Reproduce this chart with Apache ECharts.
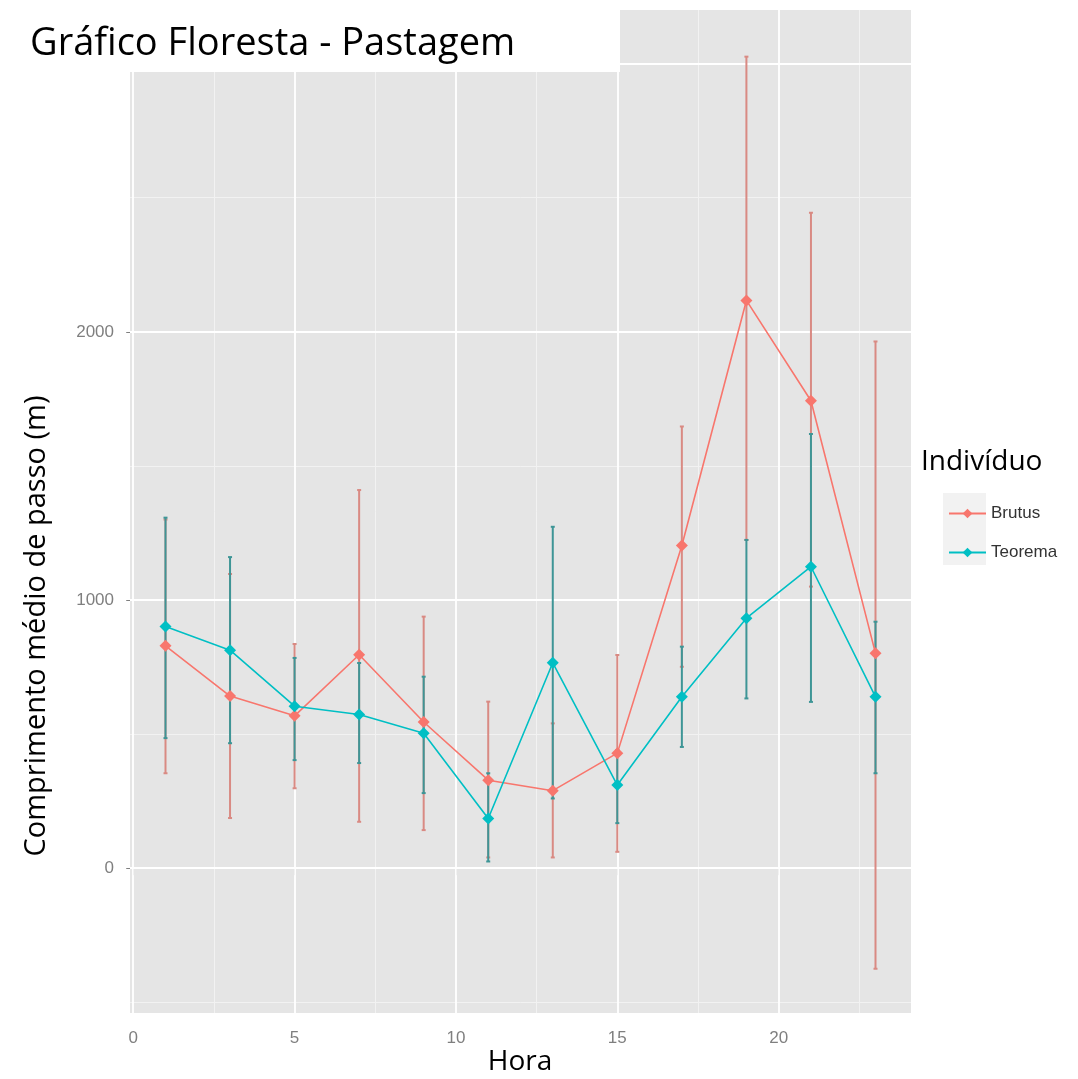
<!DOCTYPE html>
<html>
<head>
<meta charset="utf-8">
<script src="https://cdn.jsdelivr.net/npm/echarts@6/dist/echarts.min.js"></script>
<style>html,body{margin:0;padding:0;background:#fff}#c{width:1078px;height:1079px}</style>
</head>
<body>
<div id="c"></div>
<script>
const hours = [1, 3, 5, 7, 9, 11, 13, 15, 17, 19, 21, 23];
const brutusMean = [829, 642, 568, 796, 545, 328, 289, 429, 1203, 2117, 1743, 801];
const brutusLow = [354, 187, 298, 173, 142, 40, 40, 61, 751, 1224, 1050, -375];
const brutusHigh = [1300, 1097, 836, 1410, 938, 621, 540, 795, 1647, 3026, 2444, 1964];
const teoremaMean = [901, 813, 604, 573, 503, 185, 766, 310, 639, 932, 1124, 639];
const teoremaLow = [485, 466, 403, 392, 280, 25, 260, 168, 452, 633, 620, 354];
const teoremaHigh = [1307, 1160, 784, 765, 714, 354, 1273, 440, 826, 1224, 1619, 919];
const xTicks = [0, 5, 10, 15, 20];
const xMinor = [2.5, 7.5, 12.5, 17.5, 22.5];
const yTicks = [0, 1000, 2000, 3000];
const yMinor = [-500, 500, 1500, 2500];

const RED = '#F8766D', TEAL = '#00BFC4';
const chart = echarts.init(document.getElementById('c'));

function errSeries(name, low, high, color) {
  return {
    type: 'custom', name: name + '_err', silent: true, z: 3,
    data: hours.map((h, i) => [h, low[i], high[i]]),
    renderItem: (params, api) => {
      const x = api.value(0);
      const p1 = api.coord([x, api.value(1)]);
      const p2 = api.coord([x, api.value(2)]);
      const st = { stroke: color, lineWidth: 2 };
      return { type: 'group', children: [
        { type: 'line', shape: { x1: p1[0], y1: p1[1], x2: p2[0], y2: p2[1] }, style: st },
        { type: 'line', shape: { x1: p1[0] - 2, y1: p1[1], x2: p1[0] + 2, y2: p1[1] }, style: st },
        { type: 'line', shape: { x1: p2[0] - 2, y1: p2[1], x2: p2[0] + 2, y2: p2[1] }, style: st }
      ]};
    }
  };
}

const gridLines = [];
xMinor.forEach(v => gridLines.push({ xAxis: v, lineStyle: { color: '#F2F2F2', width: 1, type: 'solid' } }));
yMinor.forEach(v => gridLines.push({ yAxis: v, lineStyle: { color: '#F2F2F2', width: 1, type: 'solid' } }));
xTicks.forEach(v => gridLines.push({ xAxis: v, lineStyle: { color: '#FFFFFF', width: 1.8, type: 'solid' } }));
yTicks.forEach(v => gridLines.push({ yAxis: v, lineStyle: { color: '#FFFFFF', width: 1.8, type: 'solid' } }));

const axisTxt = { color: '#7F7F7F', fontSize: 17, fontFamily: 'Liberation Sans' };

chart.setOption({
  animation: false,
  backgroundColor: '#FFFFFF',
  grid: { left: 130, top: 10, width: 781, height: 1003, show: true, backgroundColor: '#E5E5E5', borderWidth: 0 },
  xAxis: {
    type: 'value', min: -0.1, max: 24.1,
    splitLine: { show: false },
    axisLine: { show: false },
    axisTick: { show: true, customValues: xTicks, length: 7, lineStyle: { color: '#7F7F7F', width: 1 } },
    axisLabel: Object.assign({ customValues: xTicks, margin: 17, formatter: v => String(v) }, axisTxt)
  },
  yAxis: {
    type: 'value', min: -540, max: 3200,
    splitLine: { show: false },
    axisLine: { show: false },
    axisTick: { show: true, customValues: yTicks, length: 7, lineStyle: { color: '#7F7F7F', width: 1 } },
    axisLabel: Object.assign({ customValues: yTicks, margin: 16, formatter: v => String(v) }, axisTxt)
  },
  legend: {
    orient: 'vertical', left: 943, top: 500, itemWidth: 37, itemHeight: 12, itemGap: 22,
    data: ['Brutus', 'Teorema'],
    textStyle: { color: '#333333', fontSize: 17, fontFamily: 'Liberation Sans' }
  },
  series: [
    { type: 'line', name: 'grid', data: [], silent: true, z: 1,
      markLine: { silent: true, z: 1, symbol: 'none', label: { show: false }, animation: false, data: gridLines } },
    errSeries('Brutus', brutusLow, brutusHigh, '#D98A83'),
    errSeries('Teorema', teoremaLow, teoremaHigh, '#3E9596'),
    { type: 'line', name: 'Brutus', data: hours.map((h, i) => [h, brutusMean[i]]), z: 4,
      symbol: 'diamond', symbolSize: 12, color: RED, lineStyle: { color: RED, width: 1.6 }, itemStyle: { color: RED } },
    { type: 'line', name: 'Teorema', data: hours.map((h, i) => [h, teoremaMean[i]]), z: 5,
      symbol: 'diamond', symbolSize: 12, color: TEAL, lineStyle: { color: TEAL, width: 1.6 }, itemStyle: { color: TEAL } }
  ],
  graphic: [
    { type: 'rect', z: 100, shape: { x: 0, y: 0, width: 620, height: 72 }, style: { fill: '#FFFFFF' } },
    { type: 'text', z: 101, x: 30, y: 44, style: { text: 'Gráfico Floresta - Pastagem', fontSize: 38, fontFamily: 'Open Sans', fill: '#000000', verticalAlign: 'middle' } },
    { type: 'rect', z: 0, shape: { x: 943, y: 493, width: 43, height: 72 }, style: { fill: '#F2F2F2' } },
    { type: 'text', z: 101, x: 921, y: 462, style: { text: 'Indivíduo', fontSize: 28, fontFamily: 'Open Sans', fill: '#000000', verticalAlign: 'middle' } },
    { type: 'text', z: 101, x: 520, y: 1062, style: { text: 'Hora', fontSize: 28, fontFamily: 'Open Sans', fill: '#000000', align: 'center', verticalAlign: 'middle' } },
    { type: 'text', z: 101, x: 37, y: 626, rotation: Math.PI / 2, style: { text: 'Comprimento médio de passo (m)', fontSize: 29, fontFamily: 'Open Sans', fill: '#000000', align: 'center', verticalAlign: 'middle' } }
  ]
});
</script>
</body>
</html>
